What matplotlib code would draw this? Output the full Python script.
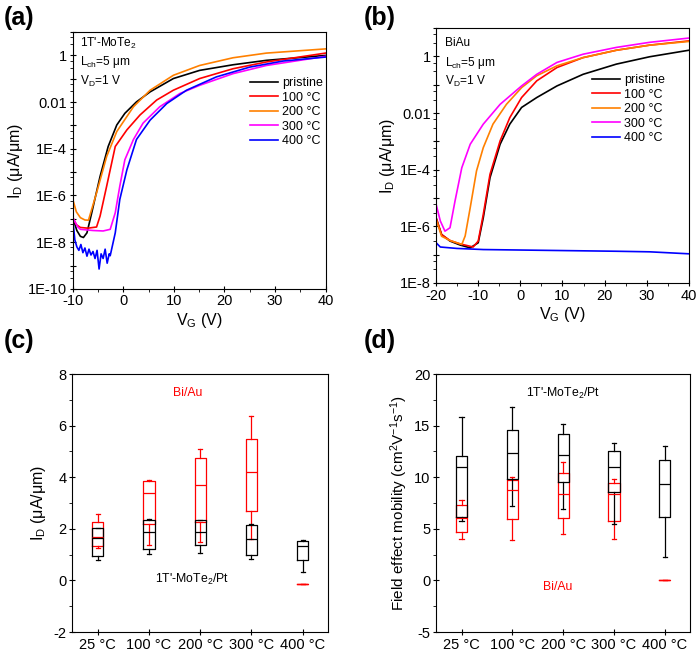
import numpy as np
import matplotlib
matplotlib.use('Agg')
import matplotlib.pyplot as plt
from matplotlib.ticker import FixedLocator, MultipleLocator, LogLocator, NullFormatter, FuncFormatter

plt.rcParams['font.family'] = ['Liberation Sans', 'DejaVu Sans']
plt.rcParams['mathtext.fontset'] = 'custom'
plt.rcParams['mathtext.rm'] = 'Liberation Sans'
plt.rcParams['mathtext.it'] = 'Liberation Sans:italic'
plt.rcParams['mathtext.bf'] = 'Liberation Sans:bold'
plt.rcParams['axes.unicode_minus'] = False

#%% Data (a) : 1T'-MoTe2, log10(I_D) vs V_G
labels = ["pristine", "100 °C", "200 °C", "300 °C", "400 °C"]
colors = ["black", "#ff0000", "#ff8000", "#ff00ff", "#0000ff"]

a_v_pristine = [-10, -9.2, -8.5, -7.9, -7.2, -6.25, -4.6, -3, -1.3, 0.3, 2.6, 5.3, 9.9, 15.1, 21.7, 28.3, 40]
a_l_pristine = [-6.95, -7.5, -7.75, -7.8, -7.6, -6.74, -5.18, -3.9, -2.98, -2.48, -1.99, -1.56, -0.99, -0.64, -0.4, -0.21, 0]
a_v_100 = [-10, -9.3, -8.5, -7, -5.3, -4.6, -3.3, -1.6, 0.7, 3.3, 6.6, 9.9, 15.1, 21.7, 28.3, 40]
a_l_100 = [-6.95, -7.25, -7.37, -7.4, -7.35, -6.88, -5.6, -3.9, -3.19, -2.55, -1.91, -1.49, -0.99, -0.57, -0.28, 0.1]
a_v_200 = [-10, -9.3, -8.5, -7.6, -6.9, -5.3, -3.3, -1.3, 2, 5.3, 9.9, 15.1, 21.7, 28.3, 40]
a_l_200 = [-6.17, -6.7, -6.95, -7.05, -7.06, -5.89, -4.33, -3.26, -2.2, -1.49, -0.85, -0.43, -0.1, 0.1, 0.28]
a_v_300 = [-10, -9, -8.5, -6, -4, -2.6, -1.6, -0.7, 0.3, 2, 3.9, 7.2, 11.2, 15.1, 21.7, 28.3, 40]
a_l_300 = [-6.95, -7.35, -7.45, -7.5, -7.52, -7.45, -6.74, -5.6, -4.47, -3.6, -2.9, -2.2, -1.63, -1.28, -0.78, -0.43, -0.04]
a_v_400 = [-10, -9.6, -9.2, -8.8, -8.4, -8.0, -7.6, -7.2, -6.8, -6.4, -6.0, -5.6, -5.2, -4.8, -4.4, -4.0, -3.6, -3.2, -2.8, -2.6,
           -1.6, -0.7, 0.7, 2.6, 5.3, 8.6, 12.5, 18.4, 25, 31.6, 40]
a_l_400 = [-7.0, -7.9, -8.2, -8.35, -8.1, -8.45, -8.25, -8.6, -8.3, -8.55, -8.4, -8.7, -8.35, -9.15, -8.5, -8.7, -8.3, -8.9, -8.5, -8.58,
           -7.6, -6.17, -4.9, -3.6, -2.77, -2.06, -1.49, -0.92, -0.5, -0.24, -0.07]

#%% Data (b) : BiAu
b_v_pristine = [-20, -18.7, -16.7, -14.3, -11.9, -10, -8.8, -7.2, -4.8, -2.5, 0.3, 3.9, 8.7, 14.9, 22.8, 30.7, 40]
b_l_pristine = [-5.7, -6.29, -6.52, -6.66, -6.76, -6.58, -5.7, -4.28, -3.1, -2.39, -1.8, -1.45, -1.04, -0.63, -0.27, -0.01, 0.22]
b_v_100 = [-20, -18.7, -16.7, -14.3, -11.2, -10, -8.8, -7.2, -4.8, -2.5, 0.3, 3.9, 8.7, 14.9, 22.8, 30.7, 40]
b_l_100 = [-5.7, -6.29, -6.5, -6.62, -6.73, -6.52, -5.58, -4.16, -2.98, -2.16, -1.45, -0.86, -0.39, -0.04, 0.22, 0.4, 0.55]
b_v_200 = [-20, -18.7, -16.7, -13.9, -13.1, -11.9, -10.4, -8.8, -6.5, -3.3, 0.3, 3.9, 8.7, 14.9, 22.8, 30.7, 40]
b_l_200 = [-5.75, -6.35, -6.5, -6.64, -6.34, -5.34, -4.04, -3.22, -2.39, -1.69, -1.1, -0.68, -0.33, -0.04, 0.22, 0.4, 0.53]
b_v_300 = [-20, -19, -17.9, -16.7, -15.5, -13.9, -11.9, -8.8, -4.8, 0.3, 3.9, 8.7, 14.9, 22.8, 30.7, 40]
b_l_300 = [-5.22, -5.81, -6.17, -6.05, -5.1, -3.93, -3.1, -2.39, -1.69, -1.04, -0.63, -0.21, 0.08, 0.32, 0.5, 0.65]
b_v_400 = [-20, -19, -15.1, -8.8, 7, 22.8, 30.7, 40]
b_l_400 = [-6.58, -6.73, -6.78, -6.82, -6.85, -6.88, -6.9, -6.97]

#%% Data (c) and (d) : box statistics per anneal temperature
temps = ["25 °C", "100 °C", "200 °C", "300 °C", "400 °C"]
# order: whislo, q1, med, q3, whishi
c_pt = [[0.79, 0.93, 1.64, 2.03, 2.05],
        [1.02, 1.21, 1.86, 2.35, 2.37],
        [1.06, 1.38, 1.86, 2.33, 2.35],
        [0.83, 1.00, 1.61, 2.16, 2.17],
        [0.31, 0.80, 1.32, 1.54, 1.55]]
c_au = [[1.25, 1.32, 1.70, 2.26, 2.57],
        [1.38, 2.20, 3.39, 3.86, 3.90],
        [1.49, 2.25, 3.69, 4.75, 5.08],
        [1.61, 2.70, 4.20, 5.48, 6.38],
        [-0.14, -0.14, -0.14, -0.14, -0.14]]
d_pt = [[5.80, 6.13, 10.95, 12.09, 15.80],
        [7.17, 9.82, 12.30, 14.60, 16.85],
        [6.94, 9.53, 12.20, 14.16, 15.13],
        [5.45, 8.60, 11.02, 12.54, 13.30],
        [2.28, 6.13, 9.37, 11.67, 13.03]]
d_au = [[4.03, 4.68, 6.05, 7.33, 7.75],
        [3.90, 5.97, 8.72, 9.69, 10.00],
        [4.54, 6.03, 8.40, 10.40, 11.47],
        [4.06, 5.80, 8.40, 9.40, 9.86],
        [0.0, 0.0, 0.0, 0.0, 0.0]]

log_ticks = {-10: "1E-10", -8: "1E-8", -6: "1E-6", -4: "1E-4", -2: "0.01", 0: "1"}

fig = plt.figure(figsize=(7, 6.55), dpi=100)
axa = fig.add_axes([0.104, 0.559, 0.361, 0.392])
axb = fig.add_axes([0.623, 0.568, 0.361, 0.389])
axc = fig.add_axes([0.103, 0.035, 0.366, 0.394])
axd = fig.add_axes([0.623, 0.035, 0.363, 0.394])


def style(ax):
    ax.tick_params(which='major', direction='inout', length=5, width=0.8, labelsize=10.5, top=False, right=False, pad=1.5)
    ax.tick_params(which='minor', direction='out', length=2.5, width=0.6, top=False, right=False)
    for sp in ax.spines.values():
        sp.set_linewidth(0.8)


def log_label(y, pos):
    k = int(round(np.log10(y)))
    return log_ticks.get(k, "")


def transfer(ax, curves, xlim, ylo, text_xy, texts, leg_xy):
    for (v, l), lab, c in zip(curves, labels, colors):
        ax.plot(v, 10 ** np.array(l), color=c, lw=1.2, label=lab)
    ax.set_yscale('log')
    ax.set_xlim(xlim)
    ax.set_ylim(10.0 ** ylo, 10)
    ax.yaxis.set_major_locator(FixedLocator([10.0 ** k for k in range(ylo, 2)]))
    ax.yaxis.set_major_formatter(FuncFormatter(log_label))
    ax.yaxis.set_minor_locator(LogLocator(base=10, subs=(3.0, 6.0), numticks=30))
    ax.yaxis.set_minor_formatter(NullFormatter())
    ax.xaxis.set_major_locator(MultipleLocator(10))
    ax.xaxis.set_minor_locator(MultipleLocator(5))
    style(ax)
    ax.set_xlabel(r"V$_\mathrm{G}$ (V)", fontsize=11.5, labelpad=2)
    ax.set_ylabel(r"I$_\mathrm{D}$ (μA/μm)", fontsize=11.5, labelpad=2)
    for i, t in enumerate(texts):
        ax.text(text_xy[0], text_xy[1] - i * 0.075, t, transform=ax.transAxes, fontsize=8.6, va='center')
    ax.legend(loc='upper left', bbox_to_anchor=leg_xy, frameon=False, fontsize=9,
              handlelength=2.3, handletextpad=0.3, labelspacing=0.2, borderpad=0, borderaxespad=0)


transfer(axa, [(a_v_pristine, a_l_pristine), (a_v_100, a_l_100), (a_v_200, a_l_200),
               (a_v_300, a_l_300), (a_v_400, a_l_400)],
         (-10, 40), -10, (0.028, 0.957), [r"1T'-MoTe$_2$", r"L$_\mathrm{ch}$=5 μm", r"V$_\mathrm{D}$=1 V"], (0.7, 0.825))
transfer(axb, [(b_v_pristine, b_l_pristine), (b_v_100, b_l_100), (b_v_200, b_l_200),
               (b_v_300, b_l_300), (b_v_400, b_l_400)],
         (-20, 40), -8, (0.036, 0.94), ["BiAu", r"L$_\mathrm{ch}$=5 μm", r"V$_\mathrm{D}$=1 V"], (0.615, 0.82))


def boxes(ax, data, color):
    stats = [dict(whislo=s[0], q1=s[1], med=s[2], q3=s[3], whishi=s[4]) for s in data]
    lp = dict(color=color, lw=0.9)
    ax.bxp(stats, positions=range(1, 6), widths=0.22, capwidths=0.08, showfliers=False,
           boxprops=lp, whiskerprops=lp, capprops=lp, medianprops=lp, manage_ticks=False)


for ax, pt, au, ylim, minor in [(axc, c_pt, c_au, (-2, 8), 1), (axd, d_pt, d_au, (-5, 20), 2.5)]:
    boxes(ax, au, "#ff0000")
    boxes(ax, pt, "black")
    ax.set_xlim(0.5, 5.5)
    ax.set_ylim(ylim)
    ax.set_xticks(range(1, 6))
    ax.set_xticklabels(temps)
    ax.yaxis.set_major_locator(MultipleLocator(2 * minor))
    ax.yaxis.set_minor_locator(MultipleLocator(minor))
    style(ax)

axc.set_ylabel(r"I$_\mathrm{D}$ (μA/μm)", fontsize=11.5, labelpad=4)
axd.set_ylabel(r"Field effect mobility (cm$^2$V$^{-1}$s$^{-1}$)", fontsize=11, labelpad=3)
axc.text(0.453, 0.926, "Bi/Au", color="#ff0000", transform=axc.transAxes, fontsize=8.8, ha='center', va='center')
axc.text(0.469, 0.205, r"1T'-MoTe$_2$/Pt", transform=axc.transAxes, fontsize=8.8, ha='center', va='center')
axd.text(0.5, 0.926, r"1T'-MoTe$_2$/Pt", transform=axd.transAxes, fontsize=8.8, ha='center', va='center')
axd.text(0.48, 0.174, "Bi/Au", color="#ff0000", transform=axd.transAxes, fontsize=8.8, ha='center', va='center')

for lab, x, y in [("(a)", 0.005, 0.972), ("(b)", 0.52, 0.972), ("(c)", 0.005, 0.48), ("(d)", 0.52, 0.48)]:
    fig.text(x, y, lab, fontsize=18, fontweight='bold', va='center')

fig.savefig("out.png", dpi=100)
